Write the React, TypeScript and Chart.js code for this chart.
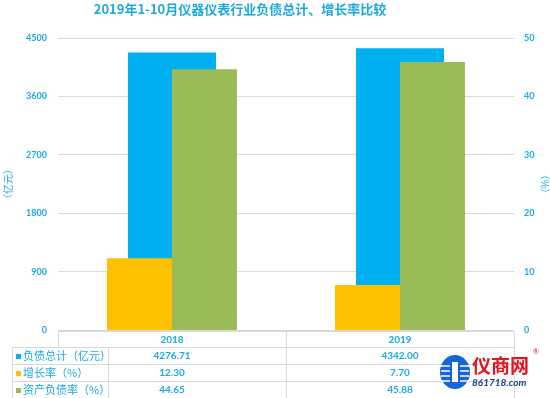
import React, { useEffect, useRef } from 'react';
import { Chart, registerables } from 'chart.js';

Chart.register(...registerables);

const chartTitle = '2019年1-10月仪器仪表行业负债总计、增长率比较';
const categories = ['2018', '2019'];
const debtTotal = [4276.71, 4342.0];
const growthRate = [12.3, 7.7];
const debtRatio = [44.65, 45.88];
const seriesNames = ['负债总计（亿元）', '增长率（%）', '资产负债率（%）'];
const leftAxisTitle = '（亿元）';
const rightAxisTitle = '（%）';
const leftAxisRange = [0, 4500, 900];
const rightAxisRange = [0, 50, 10];

const BLUE = '#00B0F0';
const YELLOW = '#FFC000';
const GREEN = '#9BBB59';
const TEXT = '#1CA9E2';
const GRID = '#D9D9D9';
const CJK = '"Noto Sans CJK SC", "Noto Sans", sans-serif';
const NUM = 'Lato, "Open Sans", sans-serif';

const seriesColors = [BLUE, YELLOW, GREEN];
const seriesValues = [debtTotal, growthRate, debtRatio];

const tablePlugin = {
  id: 'tableAndText',
  afterDraw(chart: any) {
    const ctx: CanvasRenderingContext2D = chart.ctx;
    const { left, right, bottom } = chart.chartArea;
    const xs = chart.scales.x;
    ctx.save();

    // title
    ctx.fillStyle = TEXT;
    ctx.font = `bold 13px ${CJK}`;
    ctx.textAlign = 'center';
    ctx.textBaseline = 'middle';
    ctx.fillText(chartTitle, 240, 9);

    // table
    const y0 = Math.round(bottom) + 0.5;
    const rowH = 16.75;
    const ys = [0, 1, 2, 3, 4].map((i) => Math.round(y0 + rowH * i) + 0.5);
    const tableLeft = 12.5;
    const labelRight = 108.5;
    const mid = Math.round((left + right) / 2) + 0.5;
    const L = Math.round(left) + 0.5;
    const R = Math.round(right) + 0.5;

    const line = (x1: number, y1: number, x2: number, y2: number, c = GRID) => {
      ctx.strokeStyle = c;
      ctx.lineWidth = 1;
      ctx.beginPath();
      ctx.moveTo(x1, y1);
      ctx.lineTo(x2, y2);
      ctx.stroke();
    };

    line(L, ys[0], R, ys[0]);
    line(tableLeft, ys[1], R, ys[1]);
    line(tableLeft, ys[2], R, ys[2]);
    line(tableLeft, ys[3], R, ys[3]);
    line(L, ys[0], L, ys[1]);
    line(tableLeft, ys[1], tableLeft, ys[4]);
    line(labelRight, ys[1], labelRight, ys[4]);
    line(mid, ys[0], mid, ys[4]);
    line(R, ys[0], R, ys[4]);
    line(10, ys[4], 550, ys[4], '#8C8C8C');

    // header
    ctx.fillStyle = TEXT;
    ctx.font = `bold 10px ${NUM}`;
    ctx.textAlign = 'center';
    ctx.textBaseline = 'middle';
    categories.forEach((c, i) => {
      ctx.fillText(c, xs.getPixelForValue(i), (ys[0] + ys[1]) / 2);
    });

    // rows
    seriesNames.forEach((name, r) => {
      const cy = (ys[r + 1] + ys[r + 2]) / 2;
      ctx.fillStyle = seriesColors[r];
      ctx.fillRect(16, Math.round(cy - 2.5), 5, 5);
      ctx.fillStyle = TEXT;
      ctx.font = `11px ${CJK}`;
      ctx.textAlign = 'left';
      ctx.fillText(name, 23, cy);
      ctx.font = `bold 10px ${NUM}`;
      ctx.textAlign = 'center';
      seriesValues[r].forEach((v, i) => {
        ctx.fillText(v.toFixed(2), xs.getPixelForValue(i), cy);
      });
    });

    // logo
    const cx = 455;
    const cyL = 372;
    ctx.fillStyle = '#1565D8';
    ctx.beginPath();
    ctx.ellipse(cx, cyL, 15, 17, 0, 0, Math.PI * 2);
    ctx.fill();
    ctx.strokeStyle = '#FFFFFF';
    ctx.lineWidth = 1.5;
    [-6, -1, 4, 9].forEach((d) => {
      ctx.beginPath();
      ctx.moveTo(cx - 14, cyL + d);
      ctx.lineTo(cx - 5, cyL + d);
      ctx.stroke();
      ctx.beginPath();
      ctx.moveTo(cx + 5, cyL + d);
      ctx.lineTo(cx + 14, cyL + d);
      ctx.stroke();
    });
    ctx.fillStyle = '#FFFFFF';
    ctx.fillRect(cx - 3, cyL - 10, 6, 20);

    ctx.fillStyle = '#E3141E';
    ctx.font = `bold 19px ${CJK}`;
    ctx.textAlign = 'left';
    ctx.textBaseline = 'middle';
    ctx.fillText('仪商网', 472, 366);
    ctx.font = `7px ${NUM}`;
    ctx.fillText('®', 533, 352);
    ctx.fillStyle = '#1A3C8C';
    ctx.font = `italic bold 10px ${NUM}`;
    ctx.fillText('861718.com', 472, 383);

    ctx.restore();
  },
};

export default function App() {
  const ref = useRef<HTMLCanvasElement | null>(null);

  useEffect(() => {
    if (!ref.current) return;
    const chart = new Chart(ref.current, {
      type: 'bar',
      data: {
        labels: categories,
        datasets: [
          {
            label: seriesNames[0],
            data: debtTotal,
            backgroundColor: BLUE,
            yAxisID: 'y',
            order: 2,
            grouped: false,
            categoryPercentage: 1,
            barPercentage: 0.386,
          },
          {
            label: seriesNames[1],
            data: growthRate,
            backgroundColor: YELLOW,
            yAxisID: 'y2',
            order: 1,
            categoryPercentage: 0.57,
            barPercentage: 1,
          },
          {
            label: seriesNames[2],
            data: debtRatio,
            backgroundColor: GREEN,
            yAxisID: 'y2',
            order: 1,
            categoryPercentage: 0.57,
            barPercentage: 1,
          },
        ],
      },
      options: {
        responsive: false,
        animation: false,
        layout: { padding: { top: 38, bottom: 68, left: 0, right: 0 } },
        plugins: {
          legend: { display: false },
          title: { display: false },
          tooltip: { enabled: false },
        },
        scales: {
          x: { type: 'category', display: false, offset: true },
          y: {
            position: 'left',
            min: leftAxisRange[0],
            max: leftAxisRange[1],
            ticks: {
              stepSize: leftAxisRange[2],
              color: TEXT,
              font: { family: NUM, size: 9, weight: 'bold' },
              padding: 11,
              callback: (v: any) => String(v),
            },
            grid: { color: GRID, drawTicks: false },
            border: { display: false },
            title: {
              display: true,
              text: leftAxisTitle,
              color: TEXT,
              font: { family: CJK, size: 10 },
              padding: { top: 2, bottom: 0 },
            },
            afterFit: (s: any) => {
              s.width = 58;
            },
          },
          y2: {
            position: 'right',
            min: rightAxisRange[0],
            max: rightAxisRange[1],
            ticks: {
              stepSize: rightAxisRange[2],
              color: TEXT,
              font: { family: NUM, size: 9, weight: 'bold' },
              padding: 10,
              callback: (v: any) => String(v),
            },
            grid: { display: false, drawTicks: false },
            border: { display: false },
            title: {
              display: true,
              text: rightAxisTitle,
              color: TEXT,
              font: { family: CJK, size: 10, lineHeight: 1 },
              padding: { top: 0, bottom: 0 },
            },
            afterFit: (s: any) => {
              s.width = 36;
            },
          },
        },
      } as any,
      plugins: [tablePlugin],
    });
    return () => chart.destroy();
  }, []);

  return (
    <div style={{ position: 'absolute', left: 0, top: 0, width: 550, height: 398, background: '#fff' }}>
      <canvas ref={ref} width={550} height={398} />
    </div>
  );
}
